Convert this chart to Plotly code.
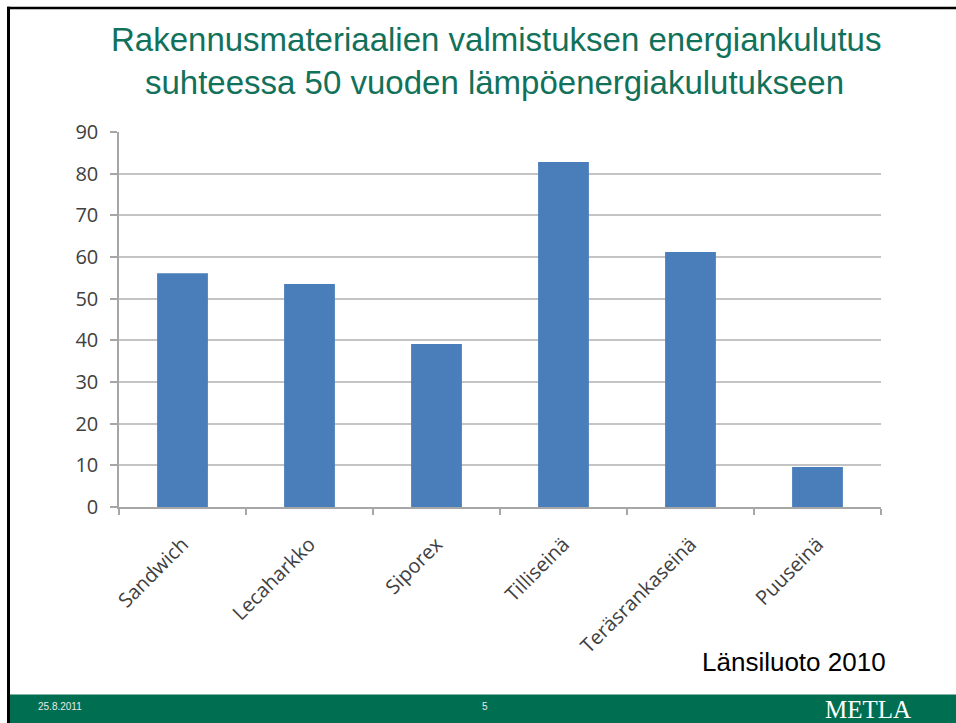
import plotly.graph_objects as go

categories = ["Sandwich", "Lecaharkko", "Siporex", "Tilliseinä", "Teräsrankaseinä", "Puuseinä"]
values = [56.1, 53.5, 39.1, 82.8, 61.2, 9.6]
y_ticks = [0, 10, 20, 30, 40, 50, 60, 70, 80, 90]

title_lines = ["Rakennusmateriaalien valmistuksen energiankulutus",
               "suhteessa 50 vuoden lämpöenergiakulutukseen"]
source_text = "Länsiluoto 2010"
footer_date = "25.8.2011"
footer_page = "5"
footer_logo = "METLA"

W, H = 956, 723
L, R, T, B = 119, 75, 132, 216
PW, PH = W - L - R, H - T - B

def px(x):
    return (x - L) / PW

def py(y):
    return (H - B - y) / PH

GREEN = "#11715a"
FOOT = "#006f51"
TICKFONT = dict(size=20, family="Open Sans, Lato, sans-serif", color="#404040")

fig = go.Figure()
fig.add_trace(go.Bar(x=categories, y=values, marker=dict(color="#4a7ebb", line=dict(width=0)),
                     hoverinfo="x+y"))

fig.update_layout(
    width=W, height=H,
    margin=dict(l=L, r=R, t=T, b=B, pad=0),
    paper_bgcolor="white", plot_bgcolor="white",
    showlegend=False, bargap=0.6,
    font=dict(family="Open Sans, Lato, sans-serif", color="#404040"),
)
fig.update_xaxes(
    showline=True, linecolor="#a6a6a6", linewidth=1.5,
    ticks="outside", tickson="boundaries", ticklen=6, tickcolor="#a6a6a6", tickwidth=1.5,
    tickangle=-45, tickfont=TICKFONT, ticklabelstandoff=16,
    showgrid=False,
)
fig.update_yaxes(
    range=[0, 90], tickvals=y_ticks, ticktext=[str(v) for v in y_ticks],
    showline=True, linecolor="#a6a6a6", linewidth=1.5,
    ticks="outside", ticklen=7, tickcolor="#a6a6a6", tickwidth=1.5,
    showgrid=True, gridcolor="#c4c4c4", gridwidth=1.5,
    tickfont=TICKFONT, ticklabelstandoff=8, zeroline=False,
)

shapes = [
    dict(type="rect", xref="paper", yref="paper", x0=px(10), x1=px(W + 2), y0=py(694.5), y1=py(H + 2),
         fillcolor=FOOT, line=dict(width=0), layer="below"),
    dict(type="line", xref="paper", yref="paper", x0=px(8.5), x1=px(8.5), y0=py(6.7), y1=py(H + 2),
         line=dict(color="black", width=3)),
    dict(type="line", xref="paper", yref="paper", x0=px(7), x1=px(W + 2), y0=py(8), y1=py(8),
         line=dict(color="black", width=2.5)),
]

TITLEFONT = dict(family="Liberation Sans, Arial, sans-serif", size=33, color=GREEN)
annotations = [
    dict(text=title_lines[0], x=px(496), y=py(40), xref="paper", yref="paper",
         xanchor="center", yanchor="middle", showarrow=False, font=TITLEFONT),
    dict(text=title_lines[1], x=px(494), y=py(83), xref="paper", yref="paper",
         xanchor="center", yanchor="middle", showarrow=False, font=TITLEFONT),
    dict(text=source_text, x=px(888), y=py(662), xref="paper", yref="paper",
         xanchor="right", yanchor="middle", showarrow=False,
         font=dict(family="Liberation Sans, Arial", size=26, color="black")),
    dict(text=footer_date, x=px(36), y=py(706), xref="paper", yref="paper",
         xanchor="left", yanchor="middle", showarrow=False,
         font=dict(family="Liberation Sans, Arial", size=10, color="#e8e8e8")),
    dict(text=footer_page, x=px(485), y=py(706), xref="paper", yref="paper",
         xanchor="center", yanchor="middle", showarrow=False,
         font=dict(family="Liberation Sans, Arial", size=10, color="#e8e8e8")),
    dict(text=footer_logo, x=px(868), y=py(709), xref="paper", yref="paper",
         xanchor="center", yanchor="middle", showarrow=False,
         font=dict(family="Liberation Serif, Times New Roman, serif", size=25, color="white")),
]

fig.update_layout(shapes=shapes, annotations=annotations)
fig.write_html("out.html", config={"displayModeBar": False},
               post_script="document.body.style.margin='0';document.body.style.overflow='hidden';")
